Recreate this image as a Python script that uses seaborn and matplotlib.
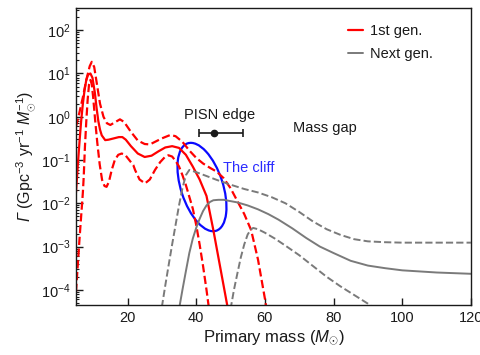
import numpy as np
import matplotlib
matplotlib.use("Agg")
import matplotlib.pyplot as plt
import matplotlib.transforms as mtransforms
from matplotlib.patches import Ellipse
from matplotlib.lines import Line2D
import seaborn as sns
import pandas as pd

# values (y given as log10 of the rate)
first_med_x = [5, 5.5, 6, 6.5, 7, 7.5, 8, 8.5, 9.2, 9.8, 10.5, 11, 11.5, 12, 12.5, 13.5, 14.5, 16, 17.5, 18.5,
               19.5, 21, 23, 25, 27, 29, 31, 33, 35, 37, 39, 41, 43, 45, 47, 49, 50]
first_med_logy = [-1.75, -1.15, -0.6, -0.1, 0.3, 0.62, 0.85, 0.97, 1.0, 0.9, 0.55, 0.2, -0.1, -0.3, -0.43, -0.54,
                  -0.53, -0.5, -0.47, -0.47, -0.53, -0.68, -0.85, -0.93, -0.9, -0.8, -0.71, -0.68, -0.72, -0.88,
                  -1.15, -1.45, -1.83, -2.62, -3.48, -4.34, -4.7]

first_hi_x = [5, 6, 7, 8, 9, 9.6, 10.3, 11, 12, 13, 14, 15, 16.5, 17.8, 19, 21, 23, 25, 26.5, 28, 30, 32.5, 34,
              36, 38, 40, 42, 44, 46, 48, 50, 52, 54, 56, 58, 60, 61]
first_hi_logy = [-0.23, 0.1, 0.45, 0.85, 1.17, 1.27, 1.15, 0.8, 0.3, 0.0, -0.15, -0.19, -0.12, -0.06, -0.12, -0.35,
                 -0.55, -0.63, -0.64, -0.58, -0.5, -0.42, -0.45, -0.58, -0.78, -0.95, -1.08, -1.18, -1.27, -1.42,
                 -1.65, -1.95, -2.25, -2.62, -3.3, -4.2, -4.7]

first_lo_x = [5, 5.5, 6, 6.5, 7, 7.24, 7.6, 8.0, 8.4, 8.8, 9.2, 9.6, 10.0, 10.6, 11.2, 11.9, 12.6, 13.3, 13.9,
              14.6, 15.4, 16.3, 17.3, 18.3, 19.3, 20.5, 21.7, 22.2, 23.5, 25.1, 26.5, 28, 29.5, 30.9, 31.9, 33,
              34, 35, 36, 37, 38, 39, 40, 41, 42, 43, 44]
first_lo_logy = [-4.05, -3.45, -2.85, -2.3, -1.75, -1.4, -0.7, -0.1, 0.4, 0.75, 0.85, 0.75, 0.45, -0.1, -0.6,
                 -1.1, -1.46, -1.6, -1.62, -1.5, -1.23, -1.0, -0.88, -0.85, -0.88, -1.0, -1.12, -1.23, -1.45,
                 -1.54, -1.45, -1.23, -1.05, -0.93, -0.89, -0.92, -1.02, -1.15, -1.35, -1.58, -1.85, -2.12, -2.5,
                 -2.95, -3.45, -4.0, -4.6]

next_med_x = [35, 36, 37, 38, 39, 40, 41, 42, 43, 44, 45, 46.5, 48, 50, 52, 55, 58, 61, 64, 68, 72, 76, 80, 85,
              90, 95, 100, 110, 120]
next_med_logy = [-4.45, -4.0, -3.57, -3.15, -2.82, -2.57, -2.36, -2.18, -2.05, -1.97, -1.93, -1.92, -1.92, -1.95,
                 -1.98, -2.05, -2.14, -2.25, -2.38, -2.58, -2.8, -3.0, -3.15, -3.33, -3.44, -3.5, -3.55, -3.6, -3.63]

next_hi_x = [30, 31, 32, 33, 34, 35, 36, 37, 38, 40, 42, 44, 46, 50, 54, 58, 62, 66, 70, 74, 78, 82, 86, 90, 95,
             100, 110, 120]
next_hi_logy = [-4.4, -3.9, -3.42, -2.95, -2.5, -2.05, -1.65, -1.35, -1.23, -1.28, -1.34, -1.4, -1.46, -1.57, -1.67,
                -1.75, -1.86, -2.0, -2.2, -2.42, -2.6, -2.73, -2.83, -2.88, -2.9, -2.91, -2.91, -2.91]

next_lo_x = [50, 51, 52, 53, 54, 55, 56, 56.6, 58, 60, 63, 66, 70, 74, 78, 82, 86, 90, 93]
next_lo_logy = [-4.45, -4.0, -3.62, -3.25, -2.95, -2.72, -2.6, -2.57, -2.6, -2.68, -2.82, -2.98, -3.2, -3.45, -3.7,
                -3.92, -4.12, -4.32, -4.5]

pisn_mass = 45.3
pisn_err = [4.4, 8.2]
pisn_rate = 0.42

curves = [
    ("first_med", first_med_x, first_med_logy, "#ff0000", "-", 1.6),
    ("first_hi", first_hi_x, first_hi_logy, "#ff0000", "--", 1.6),
    ("first_lo", first_lo_x, first_lo_logy, "#ff0000", "--", 1.6),
    ("next_med", next_med_x, next_med_logy, "#7a7a7a", "-", 1.4),
    ("next_hi", next_hi_x, next_hi_logy, "#7a7a7a", "--", 1.4),
    ("next_lo", next_lo_x, next_lo_logy, "#7a7a7a", "--", 1.4),
]

sns.set_theme(style="ticks")
plt.rcParams["font.family"] = ["Liberation Sans", "DejaVu Sans"]
plt.rcParams["mathtext.fontset"] = "custom"
plt.rcParams["mathtext.rm"] = "Liberation Sans"
plt.rcParams["mathtext.it"] = "Liberation Sans:italic"
plt.rcParams["mathtext.bf"] = "Liberation Sans:bold"
# italic capital gamma goes through the sf slot (mathtext forces Greek capitals upright in it)
plt.rcParams["mathtext.sf"] = "Liberation Sans:italic"
plt.rcParams["text.color"] = "k"
plt.rcParams["axes.labelcolor"] = "k"
plt.rcParams["xtick.color"] = "k"
plt.rcParams["ytick.color"] = "k"

fig = plt.figure(figsize=(4.81, 3.55), dpi=100)
ax = fig.add_axes([0.158, 0.141, 0.821, 0.836])

for name, xs, ly, col, ls, lw in curves:
    df = pd.DataFrame({"mass": xs, "rate": 10.0 ** np.array(ly)})
    sns.lineplot(data=df, x="mass", y="rate", color=col, linestyle=ls, linewidth=lw, sort=False, ax=ax)

ax.set_yscale("log")
ax.set_xlim(5, 120)
ax.set_ylim(10 ** -4.35, 10 ** 2.51)
ax.set_xticks([20, 40, 60, 80, 100, 120])
ax.set_yticks([1e-4, 1e-3, 1e-2, 1e-1, 1, 10, 100])
ax.yaxis.set_minor_locator(matplotlib.ticker.LogLocator(base=10, subs=np.arange(2, 10), numticks=20))
ax.yaxis.set_minor_formatter(matplotlib.ticker.NullFormatter())
ax.tick_params(axis="both", which="major", direction="in", length=5, width=1, labelsize=10.5, colors="k", pad=4)
ax.tick_params(axis="both", which="minor", direction="in", length=2.5, width=0.8)
for s in ax.spines.values():
    s.set_color("k")
    s.set_linewidth(1)

ax.set_xlabel(r"Primary mass ($M_{\odot}$)", fontsize=12, labelpad=3)
ax.set_ylabel(r"$\mathsf{Γ}$ (Gpc$^{-3}$ yr$^{-1}$ $M_{\odot}^{-1}$)", fontsize=11.5, labelpad=2)

# the cliff ellipse, sized in pixels of the axes box
pix = mtransforms.Affine2D().scale(1 / 395, 1 / 297) + ax.transAxes
ax.add_patch(Ellipse((126, 118), 92, 42, angle=108, transform=pix, fill=False, edgecolor="#0a0aff", lw=1.6))
ax.text(47.8, 10 ** -1.19, "The cliff", color="#2b2bff", fontsize=10.5, ha="left", va="center")

ax.errorbar(pisn_mass, pisn_rate, xerr=[[pisn_err[0]], [pisn_err[1]]], fmt="o", color="k", ms=4.5,
            capsize=3, elinewidth=1.2, capthick=1.2)
ax.text(46.9, 1.09, "PISN edge", fontsize=10.5, ha="center", va="center")
ax.text(77.5, 0.55, "Mass gap", fontsize=10.5, ha="center", va="center")

handles = [Line2D([], [], color="#ff0000", lw=1.6), Line2D([], [], color="#7a7a7a", lw=1.4)]
ax.legend(handles, ["1st gen.", "Next gen."], loc="upper left", bbox_to_anchor=(0.688, 0.945), frameon=False,
          fontsize=10.5, handlelength=1.05, handletextpad=0.45, labelspacing=0.6, borderpad=0, borderaxespad=0)

fig.savefig("out.png", dpi=100)
